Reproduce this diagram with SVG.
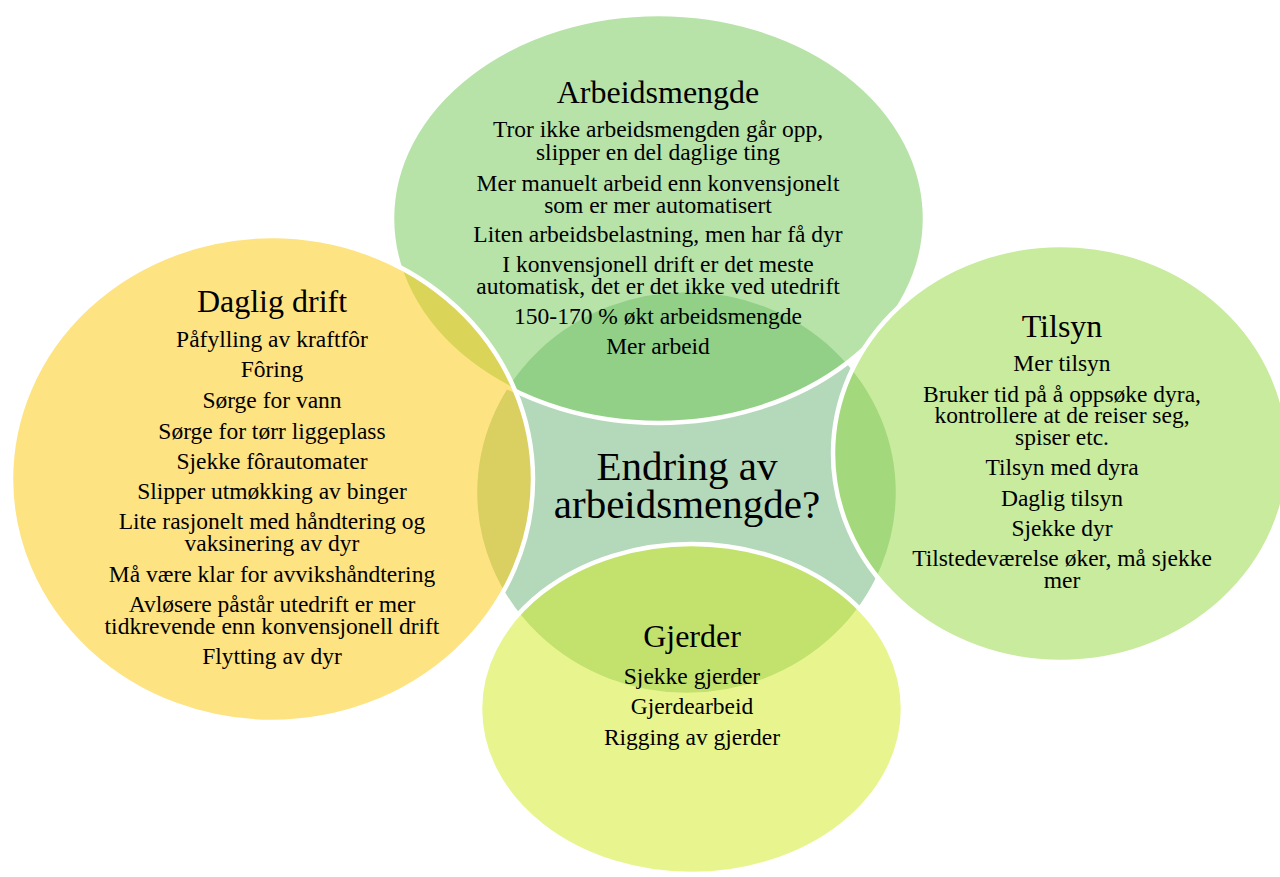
<svg xmlns="http://www.w3.org/2000/svg" width="1280" height="877" viewBox="0 0 1280 877">
<style>
  text { font-family: "Liberation Serif", "Times New Roman", serif; fill: #000; text-anchor: middle; }
  .t { font-size: 32px; }
  .b { font-size: 23.5px; }
  .c { font-size: 41px; }
  .shape { stroke: #ffffff; stroke-width: 4.5; }
</style>
<rect width="1280" height="877" fill="#ffffff"/>

<g id="center">
  <ellipse class="shape" cx="686.5" cy="492.5" rx="211.5" ry="202.5" fill="#b4d8ba"/>
</g>

<g id="arbeidsmengde">
  <ellipse class="shape" cx="658.5" cy="218.5" rx="266.5" ry="204.5" fill="#6fc753" fill-opacity="0.5"/>
  <text class="t" x="658" y="103">Arbeidsmengde</text>
  <text class="b" x="658" y="137">Tror ikke arbeidsmengden går opp,</text>
  <text class="b" x="658" y="160">slipper en del daglige ting</text>
  <text class="b" x="658" y="191">Mer manuelt arbeid enn konvensjonelt</text>
  <text class="b" x="658" y="213">som er mer automatisert</text>
  <text class="b" x="658" y="242">Liten arbeidsbelastning, men har få dyr</text>
  <text class="b" x="658" y="272">I konvensjonell drift er det meste</text>
  <text class="b" x="658" y="294">automatisk, det er det ikke ved utedrift</text>
  <text class="b" x="658" y="324">150-170 % økt arbeidsmengde</text>
  <text class="b" x="658" y="354">Mer arbeid</text>
</g>

<g id="daglig-drift">
  <ellipse class="shape" cx="272" cy="479" rx="261" ry="243" fill="#fdc707" fill-opacity="0.5"/>
  <text class="t" x="272" y="312">Daglig drift</text>
  <text class="b" x="272" y="347">Påfylling av kraftfôr</text>
  <text class="b" x="272" y="377">Fôring</text>
  <text class="b" x="272" y="408">Sørge for vann</text>
  <text class="b" x="272" y="439">Sørge for tørr liggeplass</text>
  <text class="b" x="272" y="469">Sjekke fôrautomater</text>
  <text class="b" x="272" y="499">Slipper utmøkking av binger</text>
  <text class="b" x="272" y="529">Lite rasjonelt med håndtering og</text>
  <text class="b" x="272" y="551">vaksinering av dyr</text>
  <text class="b" x="272" y="582">Må være klar for avvikshåndtering</text>
  <text class="b" x="272" y="612">Avløsere påstår utedrift er mer</text>
  <text class="b" x="272" y="634">tidkrevende enn konvensjonell drift</text>
  <text class="b" x="272" y="664">Flytting av dyr</text>
</g>

<g id="tilsyn">
  <ellipse class="shape" cx="1061" cy="453.5" rx="228" ry="208.5" fill="#91d73d" fill-opacity="0.5"/>
  <text class="t" x="1062" y="337">Tilsyn</text>
  <text class="b" x="1062" y="371">Mer tilsyn</text>
  <text class="b" x="1062" y="402">Bruker tid på å oppsøke dyra,</text>
  <text class="b" x="1062" y="423">kontrollere at de reiser seg,</text>
  <text class="b" x="1062" y="445">spiser etc.</text>
  <text class="b" x="1062" y="475">Tilsyn med dyra</text>
  <text class="b" x="1062" y="506">Daglig tilsyn</text>
  <text class="b" x="1062" y="536">Sjekke dyr</text>
  <text class="b" x="1062" y="566">Tilstedeværelse øker, må sjekke</text>
  <text class="b" x="1062" y="588">mer</text>
</g>

<g id="gjerder">
  <ellipse class="shape" cx="691.5" cy="709" rx="211.5" ry="165" fill="#d1eb1f" fill-opacity="0.5"/>
  <text class="t" x="692" y="647">Gjerder</text>
  <text class="b" x="692" y="684">Sjekke gjerder</text>
  <text class="b" x="692" y="714">Gjerdearbeid</text>
  <text class="b" x="692" y="745">Rigging av gjerder</text>
</g>

<g id="center-label">
  <text class="c" x="687" y="480">Endring av</text>
  <text class="c" x="687" y="518">arbeidsmengde?</text>
</g>
</svg>
